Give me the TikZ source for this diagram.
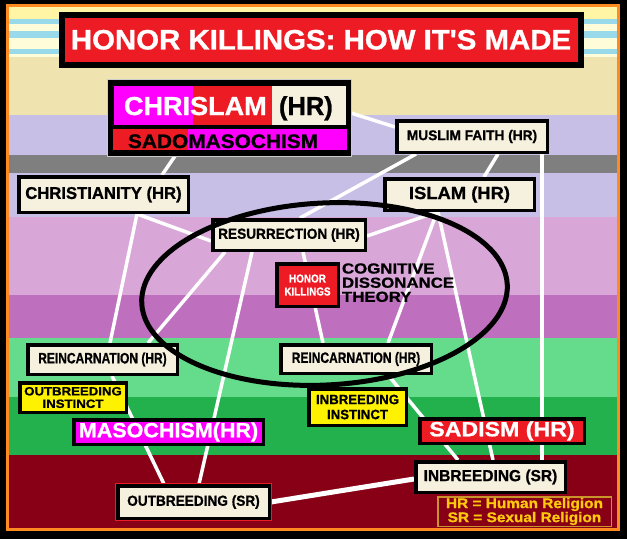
\documentclass[tikz,border=0pt]{standalone}
\usepackage{fontspec}
\setmainfont{Liberation Sans}[BoldFeatures={FakeBold=1}]
\usepackage{graphicx}
\pgfdeclarelayer{bg}\pgfdeclarelayer{lines}\pgfdeclarelayer{fg}
\pgfsetlayers{bg,lines,main,fg}
\definecolor{cream}{HTML}{F6F1DE}
\definecolor{tred}{HTML}{ED1C24}
\definecolor{tmag}{HTML}{FF00FF}
\definecolor{tyel}{HTML}{FFF200}
\definecolor{dred}{HTML}{880015}
\definecolor{gold}{HTML}{FFC90E}
\definecolor{lgold}{HTML}{C9952A}
\definecolor{tor}{HTML}{FF8A1F}
\definecolor{ylw}{HTML}{FFF5A5}
\definecolor{pale}{HTML}{FFFCDA}
\definecolor{sky}{HTML}{98DAEA}
\definecolor{tan}{HTML}{EFE4B0}
\definecolor{lav}{HTML}{C8BFE7}
\definecolor{gry}{HTML}{7F7F7F}
\definecolor{pnk}{HTML}{D9A6D8}
\definecolor{orc}{HTML}{BE6FBE}
\definecolor{lgrn}{HTML}{65DC8B}
\definecolor{dgrn}{HTML}{22B14C}
\newcommand\tx[3]{\scalebox{#2}[1]{\fontsize{#1}{#1}\selectfont #3}}
\newcommand\bx[7]{%
 \pgfmathsetmacro\bxcx{(#2+#4)/2}%
 \pgfmathsetmacro\bxcy{(#3+#5)/2}%
 \pgfmathsetmacro\bxw{#4-#2-3.5}%
 \pgfmathsetmacro\bxh{#5-#3-3.5}%
 \node[boxbase,minimum width=\bxw pt,minimum height=\bxh pt,#6] (#1) at (\bxcx,\bxcy) {#7};}
\tikzset{
 lbl/.style={inner sep=0pt, outer sep=0pt, font=\bfseries},
 boxbase/.style={draw=black, line width=3.5pt, fill=cream, inner sep=0pt, text=black, font=\bfseries},
 cell/.style={inner sep=0pt, outer sep=0pt},
 wire/.style={draw=white, line width=3.5pt},
}
\begin{document}
\begin{tikzpicture}[x=1pt,y=-1pt]
\useasboundingbox (0,0) rectangle (627,539);
\begin{pgfonlayer}{bg}
\fill[black] (0,0) rectangle (627,539);
\fill[ylw] (9,7) rectangle (617,19);
\fill[sky] (9,19) rectangle (617,24);
\fill[pale] (9,24) rectangle (617,31);
\fill[sky] (9,31) rectangle (617,38);
\fill[pale] (9,38) rectangle (617,49);
\fill[sky] (9,49) rectangle (617,54);
\fill[pale] (9,54) rectangle (617,57);
\fill[tan] (9,57) rectangle (617,115);
\fill[lav] (9,115) rectangle (617,155);
\fill[gry] (9,155) rectangle (617,173);
\fill[lav] (9,173) rectangle (617,217);
\fill[pnk] (9,217) rectangle (617,295);
\fill[orc] (9,295) rectangle (617,338);
\fill[lgrn] (9,338) rectangle (617,397);
\fill[dgrn] (9,397) rectangle (617,455);
\fill[dred] (9,455) rectangle (617,529);
\draw[tor, line width=3pt] (7.5,5.5) rectangle (618.5,529.5);
\end{pgfonlayer}

% title
\node[draw=black, line width=6pt, fill=tred, minimum width=519pt, minimum height=49.5pt, inner sep=0pt, text=white, font=\bfseries] (title) at (321,39.75) {\tx{28}{1.05}{HONOR KILLINGS: HOW IT\textquotesingle S MADE}};

% chrislam block
\node[cell, fill=black, draw=gray!40, line width=1pt, minimum width=244pt, minimum height=77pt] (chrislam) at (229,117.5) {};
\node[cell, fill=tmag, minimum width=79pt, minimum height=39pt] (chrA) at (153.5,105.5) {};
\node[cell, fill=tred, minimum width=79pt, minimum height=39pt] (chrB) at (232.5,105.5) {};
\node[cell, fill=cream, minimum width=74pt, minimum height=39pt] (chrC) at (309,105.5) {};
\node[cell, fill=tred, minimum width=75pt, minimum height=21pt] (sadoA) at (150.5,139.5) {};
\node[cell, fill=tmag, minimum width=159pt, minimum height=21pt] (sadoB) at (267.5,139.5) {};
\node[lbl, text=white, anchor=base west] (chrT) at (124,115) {\tx{26}{1.04}{CHRISLAM}};
\node[lbl, text=black, anchor=base west] (chrH) at (279,115) {\tx{26}{0.98}{(HR)}};
\node[lbl, text=black, anchor=base west] (sadoT) at (128,148) {\tx{19.5}{1.07}{SADOMASOCHISM}};

% boxes
\bx{muslim}{395}{119}{549}{154}{}{\tx{14}{0.98}{MUSLIM FAITH (HR)}}
\bx{christianity}{17}{175}{190}{214}{}{\tx{17}{0.98}{CHRISTIANITY (HR)}}
\bx{islam}{383}{177}{536}{212}{}{\tx{17.5}{1.05}{ISLAM (HR)}\hspace{14pt}}
\bx{resurrection}{211}{218}{367}{252}{}{\tx{14.5}{0.94}{RESURRECTION (HR)}}
\bx{honor}{275}{262}{340}{308}{fill=tred,text=white,align=center,font=\bfseries\fontsize{11.5}{13}\selectfont}{\tx{11.5}{0.86}{HONOR}\\\tx{11.5}{0.86}{KILLINGS}}
\bx{reincL}{26}{343}{179}{376}{}{\tx{15}{0.8}{REINCARNATION (HR)}}
\bx{reincM}{279}{343}{433}{375}{}{\tx{15}{0.8}{REINCARNATION (HR)}}
\bx{outinst}{18}{381}{128}{414}{fill=tyel,align=center,font=\bfseries\fontsize{12}{12.5}\selectfont}{\tx{12}{1.1}{OUTBREEDING}\\\tx{12}{1.1}{INSTINCT}}
\bx{ininst}{307}{387}{408}{427}{fill=tyel,align=center,font=\bfseries\fontsize{13.5}{15}\selectfont}{\tx{13.5}{0.98}{INBREEDING}\\\tx{13.5}{0.98}{INSTINCT}}
\bx{maso}{72}{418}{265}{446}{fill=tmag,text=white}{\tx{20.5}{1.05}{MASOCHISM(HR)}}
\bx{sadism}{418}{417}{586}{445}{fill=tred,text=white}{\tx{20.5}{1.13}{SADISM (HR)}}
\bx{inbreed}{414}{460}{567}{494}{}{\tx{16}{0.97}{INBREEDING (SR)}}
\bx{outbreed}{116}{484}{271}{520}{preaction={draw=tred,line width=5.5pt}}{\tx{14.5}{0.94}{OUTBREEDING (SR)}}

\node[lbl, anchor=base west] (cdt1) at (342,273.5) {\tx{14.5}{1.16}{COGNITIVE}};
\node[lbl, anchor=base west] (cdt2) at (342,287.7) {\tx{14.5}{1.16}{DISSONANCE}};
\node[lbl, anchor=base west] (cdt3) at (342,301.8) {\tx{14.5}{1.16}{THEORY}};

\node[draw=lgold, line width=1.5pt, fill=dred, text=gold, minimum width=173.5pt, minimum height=29.5pt, inner sep=0pt, align=center, font=\bfseries\fontsize{14}{14}\selectfont] (legend) at (524.5,511.5) {\tx{14}{1.1}{HR = Human Religion}\\\tx{14}{1.1}{SR = Sexual Religion}};

% connectors
\begin{pgfonlayer}{lines}
\path[wire] (chrislam.east |- 0,113) -- (muslim.west |- 0,127);
\path[wire] (chrislam.south -| 175,0) -- (christianity.north -| 162,0);
\path[wire] (muslim.south -| 416,0) -- (resurrection.north -| 300,0);
\path[wire] (muslim.south -| 498,0) -- (islam.north -| 484,0);
\path[wire] (muslim.south -| 542,0) -- (inbreed.north -| 542,0);
\path[wire] (christianity.south -| 137,0) -- (resurrection.west |- 0,241);
\path[wire] (christianity.south -| 137,0) -- (reincL.north -| 110,0);
\path[wire] (resurrection.south -| 225,0) -- (reincL.north -| 148,0);
\path[wire] (resurrection.south -| 252,0) -- (outbreed.north -| 199,0);
\path[wire] (resurrection.south -| 303,0) -- (reincM.north -| 323,0);
\path[wire] (islam.south -| 437,0) -- (resurrection.east |- 0,236);
\path[wire] (islam.south -| 437,0) -- (reincM.north -| 388,0);
\path[wire] (islam.south -| 438,0) -- (inbreed.north -| 493,0);
\path[wire] (reincM.south -| 388,0) -- (inbreed.north -| 458,0);
\path[wire] (reincL.south -| 112,0) -- (outbreed.north -| 164,0);
\path[wire, line width=5pt] (outbreed.east |- 0,502) -- (inbreed.west |- 0,479);
\end{pgfonlayer}

\begin{pgfonlayer}{fg}
\draw[line width=5pt, rotate around={3:(324.5,294)}] (324.5,294) ellipse [x radius=183, y radius=91];
\end{pgfonlayer}
\end{tikzpicture}
\end{document}
